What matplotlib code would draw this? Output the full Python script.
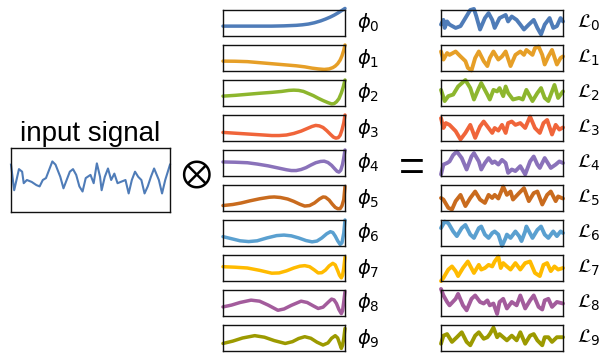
import matplotlib
matplotlib.use("Agg")
import matplotlib.pyplot as plt

# input signal (time in % of window, value in % of box height)
input_t = [0, 2, 5, 7, 8, 10, 13, 16, 18, 20, 22, 24, 26, 28, 31, 33, 35, 37, 39, 41, 43, 45, 47, 50,
           52, 54, 56, 57, 59, 61, 63, 65, 67, 69, 72, 74, 76, 78, 80, 82, 84, 86, 88, 90, 93, 95, 97, 100]
input_y = [74, 34, 67, 63, 45, 50, 47, 42, 40, 50, 53, 66, 79, 74, 55, 37, 50, 63, 67, 58, 40, 32, 53, 58,
           45, 76, 55, 34, 55, 68, 50, 60, 45, 47, 50, 29, 50, 63, 55, 50, 29, 40, 55, 68, 50, 29, 50, 74]

# basis functions phi_0 .. phi_9
phi_t = [
    [0, 10, 20, 30, 40, 50, 55, 60, 65, 70, 75, 80, 84, 88, 91, 94, 97, 100],
    [0, 10, 20, 30, 40, 50, 60, 67, 73, 78, 83, 87, 90, 92, 94, 96, 97.5, 99, 100],
    [0, 10, 20, 30, 40, 48, 54, 58, 62, 66, 70, 74, 78, 82, 86, 89, 91, 93, 95, 97, 98.5, 100],
    [0, 10, 20, 30, 40, 46, 52, 58, 64, 70, 73, 76, 79, 82, 85, 88, 90.5, 92.5, 94.5, 96, 97.5, 99, 100],
    [0, 10, 20, 28, 37, 45, 52, 56, 60, 64, 68, 72, 76, 80, 83, 86, 89, 91.5, 93.5, 95, 96.5, 98, 99, 100],
    [0, 8, 15, 22, 30, 38, 42, 47, 53, 58, 63, 67, 71, 75, 79, 82, 84, 87, 89.5, 92, 94, 96, 97.5, 99, 100],
    [0, 7, 14, 21, 28, 36, 44, 50, 56, 62, 68, 73, 77, 81, 85, 88, 90, 92, 94, 96, 97.5, 99, 100],
    [0, 10, 20, 30, 40, 46, 52, 58, 63, 67, 71, 75, 78, 81, 84, 87, 90, 92, 94, 95.5, 97, 98, 99, 100],
    [0, 7, 14, 23, 30, 37, 45, 50, 56, 64, 69, 74, 78, 82, 86, 89, 91, 93, 95, 97, 98, 99, 100],
    [0, 8, 16, 26, 34, 42, 51, 57, 62, 67, 72, 77, 82, 86, 89, 92, 94, 95.5, 97, 98, 99, 100],
]
phi_y = [
    [38, 38, 38, 38, 38, 39, 40, 41, 43, 46, 51, 58, 65, 73, 80, 88, 97, 106],
    [38, 37.5, 36, 32, 28, 24, 20, 16, 11, 8, 6, 8, 13, 19, 28, 42, 58, 80, 100],
    [38, 41, 45, 49, 52.5, 56, 60, 61, 60, 56, 48, 40, 30, 21, 13, 8, 9, 16, 28, 50, 72, 100],
    [33, 30, 27, 24, 21, 21, 23, 29, 38, 50, 56, 60, 58, 52, 40, 26, 15, 11, 13, 22, 42, 70, 100],
    [54, 53, 51, 46, 39, 31, 24, 21, 21, 25, 32, 42, 51, 56, 57, 52, 41, 28, 18, 15, 22, 45, 70, 100],
    [21, 25, 31, 39, 47, 53, 54, 52, 46, 37, 26, 19, 21, 31, 46, 54, 53, 42, 27, 14, 9, 9, 20, 44, 94],
    [36, 28, 20, 17, 20, 31, 40, 42, 39, 31, 21, 16, 19, 31, 47, 55, 52, 38, 20, 6, 12, 50, 100],
    [55, 53, 50, 41, 30, 31, 39, 50, 57, 59, 55, 42, 31, 32, 42, 58, 68, 62, 40, 22, 12, 22, 50, 92],
    [35, 42, 52, 61, 57, 42, 22, 27, 41, 57, 52, 39, 29, 34, 52, 65, 62, 48, 25, 9, 20, 55, 94],
    [29, 38, 50, 59, 53, 40, 29, 36, 48, 55, 49, 34, 23, 31, 49, 59, 50, 30, 10, 22, 49, 87],
]

# outputs L_0 .. L_9
L_t = [
    [0, 2, 3, 5, 7, 12, 16, 20, 24, 27, 29, 32, 36, 39, 42, 44, 48, 53, 55, 58, 62, 65, 68, 72, 76, 79, 82, 85, 89, 92, 95, 98, 100],
    [0, 2, 5, 7, 12, 16, 20, 22, 25, 28, 31, 35, 38, 40, 43, 47, 50, 53, 57, 61, 65, 68, 70, 75, 77, 80, 83, 85, 88, 91, 95, 98, 100],
    [0, 3, 6, 10, 14, 20, 24, 27, 31, 33, 38, 40, 43, 46, 48, 51, 53, 55, 59, 64, 67, 70, 75, 79, 82, 85, 88, 91, 93, 96, 100],
    [0, 2, 4, 7, 12, 16, 20, 24, 28, 32, 35, 39, 42, 44, 47, 50, 53, 55, 58, 61, 65, 69, 73, 77, 81, 84, 87, 91, 94, 97, 100],
    [0, 2, 5, 7, 10, 13, 17, 21, 25, 27, 31, 33, 36, 39, 42, 44, 47, 50, 53, 55, 58, 61, 65, 69, 73, 76, 79, 81, 85, 90, 94, 97, 100],
    [0, 2, 6, 9, 12, 16, 20, 24, 28, 32, 36, 39, 42, 44, 47, 51, 54, 57, 59, 64, 68, 72, 76, 79, 83, 87, 90, 94, 96, 100],
    [0, 3, 6, 10, 13, 17, 20, 24, 27, 31, 33, 36, 39, 42, 44, 47, 50, 53, 54, 57, 61, 64, 66, 69, 70, 75, 79, 82, 85, 88, 92, 95, 98, 100],
    [0, 2, 6, 9, 12, 14, 18, 22, 27, 31, 33, 36, 39, 42, 44, 47, 49, 51, 54, 57, 61, 65, 69, 73, 77, 81, 84, 87, 90, 93, 96, 100],
    [0, 2, 5, 7, 12, 14, 18, 21, 25, 28, 32, 35, 38, 40, 43, 46, 48, 51, 54, 58, 62, 65, 69, 73, 76, 80, 83, 85, 88, 91, 95, 100],
    [0, 2, 5, 9, 13, 17, 21, 24, 28, 31, 35, 38, 40, 43, 46, 48, 51, 54, 58, 62, 65, 69, 73, 76, 79, 83, 85, 88, 91, 95, 100],
]
L_y = [
    [44, 62, 31, 56, 44, 31, 38, 69, 100, 104, 75, 25, 69, 88, 62, 31, 69, 81, 56, 75, 62, 44, 25, 44, 62, 31, 6, 44, 69, 31, 38, 69, 56],
    [75, 44, 69, 62, 75, 56, 38, 12, 2, 50, 75, 38, 19, 50, 75, 44, 56, 75, 19, 62, 75, 62, 81, 62, 88, 94, 62, 25, 56, 81, 25, 50, 56],
    [62, 19, 38, 44, 75, 100, 69, 25, 69, 88, 44, 25, 62, 56, 69, 38, 75, 50, 25, 31, 25, 62, 19, 50, 69, 31, 19, 56, 81, 31, 56],
    [88, 50, 69, 62, 38, 6, 31, 62, 12, 56, 75, 50, 31, 50, 40, 62, 31, 69, 75, 62, 69, 50, 94, 50, 31, 69, 81, 25, 62, 44, 52],
    [6, 44, 50, 56, 81, 94, 69, 25, 75, 88, 56, 25, 50, 69, 50, 56, 44, 62, 50, 12, 25, 19, 38, 6, 56, 75, 44, 31, 69, 31, 44, 56, 50],
    [50, 44, 12, 6, 38, 62, 19, 50, 75, 44, 31, 62, 50, 62, 48, 94, 62, 75, 44, 69, 88, 38, 69, 75, 25, 62, 75, 38, 56, 48],
    [69, 94, 88, 56, 38, 69, 81, 44, 31, 69, 75, 44, 31, 50, 56, 44, 0, 31, 44, 31, 56, 38, 19, 56, 75, 31, 62, 75, 44, 31, 56, 38, 56, 50],
    [0, 12, 44, 56, 38, 19, 50, 75, 31, 62, 44, 50, 62, 56, 75, 94, 50, 69, 56, 44, 69, 44, 69, 75, 31, 19, 62, 69, 38, 56, 44, 50],
    [104, 79, 54, 41, 66, 85, 41, 22, 66, 79, 54, 48, 60, 41, 48, 8, 54, 66, 29, 54, 41, 79, 29, 60, 79, 35, 25, 60, 66, 35, 54, 48],
    [28, 59, 65, 35, 53, 72, 35, 22, 59, 72, 47, 53, 65, 90, 53, 65, 53, 41, 59, 41, 72, 28, 59, 65, 41, 22, 53, 53, 35, 53, 53],
]

colors = ['#4f7cb8', '#e69f27', '#8db62e', '#f0653a', '#8a72ba',
          '#c96b1e', '#5aa0d0', '#ffbb00', '#a35c9c', '#9c9a00']

W, H = 603, 356
fig = plt.figure(figsize=(W / 100, H / 100), dpi=100)


def box(left, top, width, height):
    # pixel box -> axes
    ax = fig.add_axes([left / W, (H - top - height) / H, width / W, height / H])
    ax.set_xticks([])
    ax.set_yticks([])
    ax.set_xlim(0, 100)
    ax.set_ylim(0, 100)
    for s in ax.spines.values():
        s.set_linewidth(1.0)
        s.set_color('#111111')
    return ax


# input signal
ax_in = box(11, 148, 159, 64)
ax_in.plot(input_t, input_y, color=colors[0], lw=1.5, clip_on=False,
           solid_joinstyle='round')
ax_in.set_title('input signal', fontsize=20, family='Liberation Sans', pad=5)

fig.text(196 / W, 1 - 173 / H, r'$\otimes$', fontsize=27, ha='center', va='center',
         math_fontfamily='stix')
fig.text(412 / W, 1 - 170 / H, '=', fontsize=32, ha='center', va='center',
         family='Liberation Sans')

for i in range(10):
    top = 10 + 35 * i
    ax = box(223, top, 122, 26)
    ax.plot(phi_t[i], phi_y[i], color=colors[i], lw=2.5, clip_on=False,
            solid_joinstyle='round', solid_capstyle='round')
    ax.annotate(r'$\phi_{%d}$' % i, xy=(1, 0.5), xycoords='axes fraction',
                xytext=(9, 0), textcoords='offset points', fontsize=14, va='center')

    ax = box(441, top, 122, 26)
    ax.plot(L_t[i], L_y[i], color=colors[i], lw=2.8, clip_on=False,
            solid_joinstyle='round', solid_capstyle='round')
    ax.annotate(r'$\mathcal{L}_{%d}$' % i, xy=(1, 0.5), xycoords='axes fraction',
                xytext=(10, 0), textcoords='offset points', fontsize=14, va='center')

fig.savefig('out.png', dpi=100)
